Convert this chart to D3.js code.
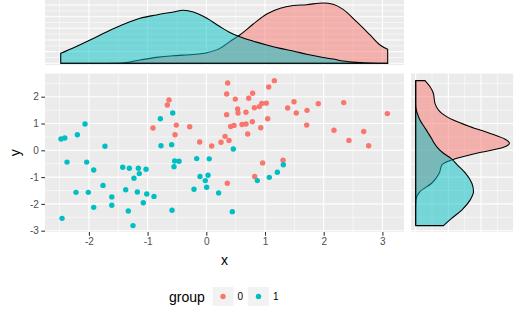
<!DOCTYPE html>
<html><head><meta charset="utf-8">
<script src="https://cdnjs.cloudflare.com/ajax/libs/d3/7.8.5/d3.min.js"></script>
<style>body{margin:0;background:#fff}svg{display:block;font-family:"Liberation Sans",Arial,sans-serif}</style>
</head><body><svg id="c" width="514" height="332"></svg>
<script>
// ---- data ----
const group0X = [-0.908,-0.664,-0.635,-0.511,-0.533,-0.283,-0.113,0.092,0.25,0.319,0.387,0.364,0.347,0.347,0.494,0.415,0.472,0.534,0.54,0.608,0.676,0.676,0.722,0.79,0.784,0.705,0.818,0.903,0.944,1.022,0.927,1.046,1.063,1.159,1.386,1.494,1.533,1.716,1.71,1.908,2.175,2.341,2.43,2.681,2.766,3.084,0.96,0.824,0.358,1.307];
const group0Y = [0.83,1.69,1.88,0.94,0.58,0.88,0.31,0.16,0.30,0.52,0.37,2.51,2.10,1.33,1.91,0.89,0.93,1.54,1.39,0.96,0.98,1.42,1.94,2.13,1.07,0.61,1.59,1.63,1.75,1.76,0.84,1.18,2.36,2.60,1.58,1.81,1.39,1.49,0.94,1.74,0.75,1.78,0.37,0.70,0.17,1.37,-0.47,-0.98,-1.23,-0.37];
const group1X = [-2.475,-2.41,-2.066,-2.197,-1.726,-2.373,-2.038,-1.918,-2.22,-2.01,-1.76,-1.918,-2.458,-1.61,-1.61,-1.424,-1.311,-1.373,-1.232,-1.158,-1.141,-1.027,-1.175,-1.015,-0.891,-1.073,-1.329,-1.249,-0.783,-0.572,-0.772,-0.59,-0.539,-0.465,-0.55,-0.584,-0.21,-0.164,-0.107,-0.017,0.006,0.03,0.05,0.46,0.21,0.443,0.869,1.073,1.21,1.312];
const group1Y = [0.42,0.46,0.98,0.58,0.15,-0.44,-0.44,-0.735,-1.57,-1.57,-1.31,-2.13,-2.54,-1.74,-2.05,-0.635,-0.67,-1.47,-1.045,-0.67,-0.87,-0.71,-1.555,-1.63,-1.72,-1.955,-2.265,-2.81,1.18,1.39,0.17,0.21,-0.40,-0.41,-0.61,-2.24,-1.455,-0.31,-0.98,-1.13,-1.38,-0.93,-0.32,0.05,-1.59,-2.29,-1.13,-1.01,-0.82,-0.54];
const groups = ["0","1"];
const groupColors = ["#F8766D","#00BFC4"];
const xTicks = [-2,-1,0,1,2,3];
const yTicks = [-3,-2,-1,0,1,2];
// marginal density of x (top)
const topX = [-2.48,-2.26,-1.98,-1.70,-1.41,-1.13,-0.85,-0.56,-0.39,-0.22,0.01,0.23,0.40,0.57,0.80,1.03,1.26,1.48,1.71,1.99,2.16,2.33,2.56,2.79,2.96,3.09];
const topDens0 = [0,0,0,0.001,0.005,0.028,0.051,0.065,0.070,0.076,0.091,0.128,0.186,0.243,0.337,0.423,0.472,0.495,0.503,0.518,0.506,0.463,0.357,0.243,0.157,0.120];
const topDens1 = [0.086,0.134,0.200,0.269,0.334,0.386,0.415,0.440,0.455,0.440,0.386,0.315,0.265,0.228,0.190,0.157,0.128,0.106,0.077,0.050,0.037,0.020,0.008,0.002,0.001,0.001];
// marginal density of y (right)
const rightY = [2.60,2.37,2.13,1.75,1.50,1.38,1.13,0.88,0.63,0.41,0.26,0.11,-0.11,-0.30,-0.55,-0.86,-1.23,-1.54,-1.85,-2.23,-2.54,-2.81];
const rightDens0 = [0.0285,0.044,0.054,0.059,0.070,0.080,0.115,0.167,0.228,0.274,0.287,0.269,0.187,0.126,0.080,0.072,0.049,0.013,0.001,0,0,0];
const rightDens1 = [0,0,0,0,0.002,0.005,0.013,0.026,0.039,0.050,0.057,0.066,0.085,0.108,0.128,0.153,0.172,0.177,0.167,0.141,0.110,0.085];

// ---- layout ----
const svg = d3.select("#c");
const M = {l:45, r:404, t:73.5, b:232};
const T = {t:0, b:65};
const R = {l:411, r:514};
const x = d3.scaleLinear().domain([-2.748,3.368]).range([M.l,M.r]);
const y = d3.scaleLinear().domain([-3.049,2.866]).range([M.b,M.t]);
const dTop = d3.scaleLinear().domain([-0.0146,0.543]).range([T.b,T.t]);
const dRight = d3.scaleLinear().domain([-0.0144,0.301]).range([R.l,R.r]);
const xMinor = [-2.5,-1.5,-0.5,0.5,1.5,2.5];
const yMinor = [-2.5,-1.5,-0.5,0.5,1.5,2.5];

function panel(x0,y0,x1,y1){
  svg.append("rect").attr("x",x0).attr("y",y0).attr("width",x1-x0).attr("height",y1-y0).attr("fill","#EBEBEB");
}
function vlines(vals,sc,y0,y1,w){
  svg.append("g").selectAll("line").data(vals).join("line")
    .attr("x1",d=>sc(d)).attr("x2",d=>sc(d)).attr("y1",y0).attr("y2",y1)
    .attr("stroke","#fff").attr("stroke-width",w);
}
function hlines(vals,sc,x0,x1,w){
  svg.append("g").selectAll("line").data(vals).join("line")
    .attr("y1",d=>sc(d)).attr("y2",d=>sc(d)).attr("x1",x0).attr("x2",x1)
    .attr("stroke","#fff").attr("stroke-width",w);
}

// top panel
panel(M.l,T.t,M.r,T.b);
vlines(xMinor,x,T.t,T.b,0.55); hlines([0.05,0.15,0.25,0.35,0.45],dTop,M.l,M.r,0.55);
vlines(xTicks,x,T.t,T.b,1.07); hlines([0,0.1,0.2,0.3,0.4,0.5],dTop,M.l,M.r,1.07);
const topArea = dens => d3.area().x((d,i)=>x(topX[i])).y0(dTop(0)).y1((d,i)=>dTop(dens[i])).curve(d3.curveMonotoneX);
[topDens0,topDens1].forEach((dens,g)=>{
  svg.append("path").datum(dens).attr("d",topArea(dens))
    .attr("fill",groupColors[g]).attr("fill-opacity",0.5).attr("stroke","#000").attr("stroke-width",1.07);
});

// right panel
panel(R.l,M.t,R.r,M.b);
hlines(yMinor,y,R.l,R.r,0.55); vlines([0.05,0.15,0.25],dRight,M.t,M.b,0.55);
hlines(yTicks,y,R.l,R.r,1.07); vlines([0,0.1,0.2,0.3],dRight,M.t,M.b,1.07);
const rightArea = dens => d3.area().y((d,i)=>y(rightY[i])).x0(dRight(0)).x1((d,i)=>dRight(dens[i])).curve(d3.curveMonotoneY);
[rightDens0,rightDens1].forEach((dens,g)=>{
  svg.append("path").datum(dens).attr("d",rightArea(dens))
    .attr("fill",groupColors[g]).attr("fill-opacity",0.5).attr("stroke","#000").attr("stroke-width",1.07);
});

// main panel
panel(M.l,M.t,M.r,M.b);
vlines(xMinor,x,M.t,M.b,0.55); hlines(yMinor,y,M.l,M.r,0.55);
vlines(xTicks,x,M.t,M.b,1.07); hlines(yTicks,y,M.l,M.r,1.07);
[[group0X,group0Y],[group1X,group1Y]].forEach(([gx,gy],g)=>{
  svg.append("g").selectAll("circle").data(gx).join("circle")
    .attr("cx",d=>x(d)).attr("cy",(d,i)=>y(gy[i])).attr("r",2.7).attr("fill",groupColors[g]);
});

// axes
const xa = svg.append("g").attr("transform",`translate(0,${M.b})`)
  .call(d3.axisBottom(x).tickValues(xTicks).tickSize(3.7).tickPadding(2.5).tickFormat(d3.format("d")));
const ya = svg.append("g").attr("transform",`translate(${M.l},0)`)
  .call(d3.axisLeft(y).tickValues(yTicks).tickSize(3.7).tickPadding(2.5).tickFormat(d3.format("d")));
[xa,ya].forEach(a=>{
  a.select(".domain").remove();
  a.selectAll(".tick line").attr("stroke","#333").attr("stroke-width",1.07);
  a.selectAll("text").attr("fill","#4D4D4D").attr("font-size",10).attr("font-family","Liberation Sans, Arial, sans-serif")
   .text(d=>d<0?"-"+Math.abs(d):d);
});
svg.append("text").attr("x",(M.l+M.r)/2).attr("y",265).attr("text-anchor","middle").attr("font-size",14).text("x");
svg.append("text").attr("transform",`translate(20,${(M.t+M.b)/2}) rotate(-90)`).attr("text-anchor","middle").attr("font-size",14).text("y");

// legend
svg.append("text").attr("x",169).attr("y",301.5).attr("font-size",14).text("group");
const keyX = [212.5,248];
groups.forEach((g,i)=>{
  svg.append("rect").attr("x",keyX[i]).attr("y",287).attr("width",21).attr("height",19).attr("fill","#F2F2F2");
  svg.append("circle").attr("cx",keyX[i]+10.5).attr("cy",296.5).attr("r",2.7).attr("fill",groupColors[i]);
  svg.append("text").attr("x",keyX[i]+25).attr("y",300).attr("font-size",10).text(g);
});
</script></body></html>
